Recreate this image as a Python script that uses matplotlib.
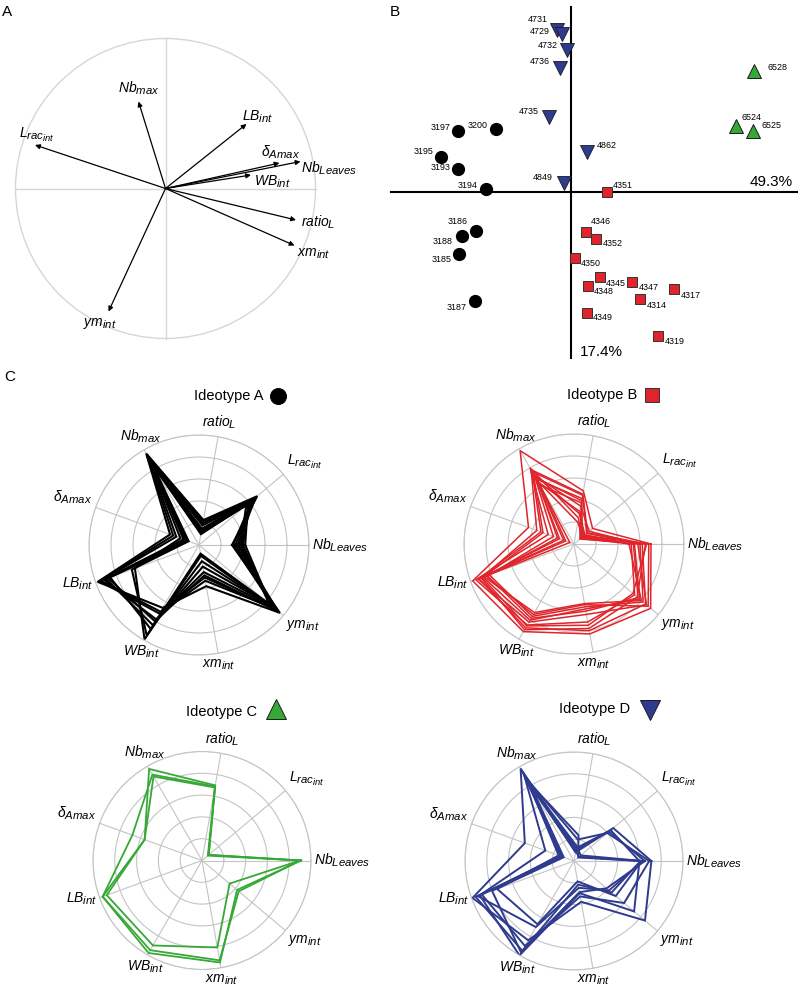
import matplotlib
matplotlib.use('Agg')
import matplotlib.pyplot as plt
import matplotlib._mathtext as _mt
import numpy as np
from matplotlib.lines import Line2D
from matplotlib.patches import Circle

_mt.SHRINK_FACTOR = 0.82

plt.rcParams['font.family'] = ['Liberation Sans', 'DejaVu Sans']
plt.rcParams['mathtext.fontset'] = 'custom'
plt.rcParams['mathtext.it'] = 'Liberation Sans:italic'
plt.rcParams['mathtext.rm'] = 'Liberation Sans'
plt.rcParams['mathtext.bf'] = 'Liberation Sans:bold'
plt.rcParams['mathtext.sf'] = 'Liberation Sans'
plt.rcParams['mathtext.default'] = 'it'

# ---------------- DATA ----------------
# Panel A: correlation circle loadings (PC1, PC2)
varsA = [r'$Nb_{max}$', r'$L_{rac_{int}}$', r'$LB_{int}$', r'$\delta_{Amax}$',
         r'$Nb_{Leaves}$', r'$WB_{int}$', r'$ratio_L$', r'$xm_{int}$', r'$ym_{int}$']
loadPC1 = [-0.18, -0.87, 0.54, 0.76, 0.90, 0.57, 0.87, 0.86, -0.38]
loadPC2 = [0.58, 0.29, 0.43, 0.17, 0.18, 0.09, -0.21, -0.38, -0.82]

# Panel B: individual scores
idsA = ['3197', '3200', '3195', '3193', '3194', '3186', '3188', '3185', '3187']
pc1A = [-2.825, -1.875, -3.25, -2.825, -2.125, -2.375, -2.725, -2.80, -2.40]
pc2A = [1.525, 1.575, 0.875, 0.575, 0.075, -0.975, -1.10, -1.55, -2.725]

idsB = ['4351', '4346', '4352', '4350', '4345', '4348', '4347', '4314', '4317', '4349', '4319']
pc1B = [0.90, 0.375, 0.625, 0.10, 0.725, 0.425, 1.525, 1.725, 2.575, 0.40, 2.175]
pc2B = [0.0, -1.0, -1.175, -1.65, -2.125, -2.35, -2.25, -2.675, -2.425, -3.025, -3.60]

idsC = ['6528', '6524', '6525']
pc1C = [4.575, 4.125, 4.55]
pc2C = [3.025, 1.65, 1.525]

idsD = ['4731', '4729', '4732', '4736', '4735', '4862', '4849']
pc1D = [-0.35, -0.225, -0.10, -0.275, -0.55, 0.40, -0.175]
pc2D = [4.05, 3.95, 3.55, 3.10, 1.875, 1.0, 0.225]

pc1_pct = '49.3%'
pc2_pct = '17.4%'

# Panel C: radar profiles (normalised 0-1)
radar_vars = [r'$Nb_{Leaves}$', r'$L_{rac_{int}}$', r'$ratio_L$', r'$Nb_{max}$',
              r'$\delta_{Amax}$', r'$LB_{int}$', r'$WB_{int}$', r'$xm_{int}$', r'$ym_{int}$']

profA = [
    [0.30, 0.69, 0.23, 0.96, 0.28, 0.98, 0.66, 0.38, 0.96],
    [0.33, 0.66, 0.20, 0.93, 0.22, 0.95, 0.70, 0.30, 0.92],
    [0.39, 0.62, 0.15, 0.90, 0.15, 0.92, 0.78, 0.25, 0.88],
    [0.42, 0.58, 0.12, 0.88, 0.12, 0.90, 0.84, 0.20, 0.85],
    [0.36, 0.64, 0.18, 0.92, 0.18, 0.62, 0.99, 0.10, 0.90],
    [0.40, 0.60, 0.10, 0.86, 0.10, 0.65, 0.95, 0.08, 0.83],
    [0.35, 0.67, 0.14, 0.94, 0.14, 0.88, 0.80, 0.28, 0.94],
    [0.31, 0.63, 0.22, 0.95, 0.25, 0.96, 0.72, 0.33, 0.90],
    [0.38, 0.56, 0.11, 0.83, 0.11, 0.86, 0.88, 0.15, 0.86],
]
profB = [
    [0.70, 0.22, 0.49, 0.98, 0.44, 0.98, 0.92, 0.83, 0.91],
    [0.62, 0.15, 0.45, 0.76, 0.32, 0.92, 0.88, 0.80, 0.85],
    [0.55, 0.10, 0.40, 0.70, 0.14, 0.88, 0.80, 0.60, 0.78],
    [0.68, 0.12, 0.30, 0.65, 0.04, 0.85, 0.74, 0.56, 0.88],
    [0.52, 0.08, 0.24, 0.80, 0.25, 0.95, 0.85, 0.72, 0.72],
    [0.60, 0.18, 0.35, 0.72, 0.20, 0.82, 0.76, 0.58, 0.82],
    [0.65, 0.07, 0.42, 0.68, 0.10, 0.90, 0.90, 0.78, 0.75],
    [0.50, 0.13, 0.28, 0.74, 0.30, 0.87, 0.72, 0.55, 0.80],
    [0.58, 0.09, 0.38, 0.62, 0.08, 0.93, 0.82, 0.65, 0.86],
    [0.66, 0.16, 0.46, 0.78, 0.36, 0.89, 0.86, 0.75, 0.70],
    [0.54, 0.11, 0.20, 0.66, 0.16, 0.84, 0.78, 0.62, 0.76],
]
profC = [
    [0.91, 0.08, 0.70, 0.97, 0.56, 0.97, 0.98, 0.95, 0.42],
    [0.90, 0.07, 0.69, 0.91, 0.68, 0.97, 0.95, 0.93, 0.44],
    [0.90, 0.08, 0.68, 0.89, 0.56, 0.93, 0.90, 0.81, 0.33],
]
profD = [
    [0.71, 0.47, 0.08, 0.98, 0.48, 0.99, 0.84, 0.38, 0.85],
    [0.60, 0.44, 0.12, 0.92, 0.28, 0.92, 1.00, 0.30, 0.72],
    [0.62, 0.05, 0.24, 0.84, 0.15, 0.75, 0.67, 0.19, 0.50],
    [0.65, 0.42, 0.10, 0.95, 0.12, 0.96, 0.95, 0.29, 0.39],
    [0.61, 0.06, 0.09, 0.78, 0.10, 0.80, 0.97, 0.22, 0.45],
    [0.69, 0.40, 0.20, 0.88, 0.14, 0.90, 0.90, 0.33, 0.60],
    [0.63, 0.08, 0.14, 0.82, 0.11, 0.94, 0.70, 0.25, 0.42],
]

# ---------------- STYLE ----------------
colA, colB, colC, colD = '#000000', '#E0242B', '#36A836', '#2E3B8E'
grey = '#c4c4c4'

W, H = 799, 991
fig = plt.figure(figsize=(W / 100, H / 100), dpi=100)


def px_axes(left, top, width, height, **kw):
    return fig.add_axes([left / W, 1 - (top + height) / H, width / W, height / H], **kw)


# ---------------- Panel A ----------------
cxA, cyA, RA = 165.5, 188.5, 150.0
axA = px_axes(cxA - 160, cyA - 160, 320, 320)
axA.set_xlim(-160 / RA, 160 / RA)
axA.set_ylim(-160 / RA, 160 / RA)
axA.axis('off')
axA.add_patch(Circle((0, 0), 1, fill=False, ec='#d6d6d6', lw=1.0))
axA.plot([-1, 1], [0, 0], color='#d6d6d6', lw=1.0)
axA.plot([0, 0], [-1, 1], color='#d6d6d6', lw=1.0)
for x, y in zip(loadPC1, loadPC2):
    axA.annotate('', xy=(x, y), xytext=(0, 0),
                 arrowprops=dict(arrowstyle='-|>', color='k', lw=0.9,
                                 mutation_scale=7, shrinkA=0, shrinkB=0))
labposA = [(-0.177, 0.67), (-0.86, 0.357), (0.617, 0.477), (0.77, 0.243),
           (1.09, 0.137), (0.71, 0.043), (1.02, -0.223), (0.99, -0.437), (-0.437, -0.897)]
for lab, (lx, ly) in zip(varsA, labposA):
    axA.text(lx, ly, lab, ha='center', va='center', fontsize=10)

# ---------------- Panel B ----------------
ox, oy, sc = 571.0, 192.0, 40.0
bl, br, bt, bb = 380.0, 799.0, 0.0, 365.0
axB = px_axes(bl, bt, br - bl, bb - bt)
axB.set_xlim((bl - ox) / sc, (br - ox) / sc)
axB.set_ylim((oy - bb) / sc, (oy - bt) / sc)
axB.axis('off')
axB.plot([(391 - ox) / sc, (797 - ox) / sc], [0, 0], color='k', lw=1.5, zorder=1)
axB.plot([0, 0], [(oy - 358) / sc, (oy - 7) / sc], color='k', lw=1.5, zorder=1)
axB.text((793 - ox) / sc, (oy - 182) / sc, pc1_pct, ha='right', va='center', fontsize=11)
axB.text((580 - ox) / sc, (oy - 352) / sc, pc2_pct, ha='left', va='center', fontsize=11)

axB.plot(pc1A, pc2A, 'o', ms=8.5, color=colA, mec=colA, ls='none', zorder=3)
axB.plot(pc1B, pc2B, 's', ms=7.5, color=colB, mec='#333333', mew=0.7, ls='none', zorder=3)
axB.plot(pc1C, pc2C, '^', ms=10.5, color=colC, mec='#1a1a1a', mew=0.7, ls='none', zorder=3)
axB.plot(pc1D, pc2D, 'v', ms=10.5, color=colD, mec='#1a1a1a', mew=0.6, ls='none', zorder=3)

# label offsets in pixels (dx, dy screen-down) and side
offA = [(-8, -4, 'r'), (-8, -4, 'r'), (-8, -5, 'r'), (-8, -1, 'r'), (-9, -4, 'r'),
        (-8, -9, 'r'), (-9, 6, 'r'), (-7, 5, 'r'), (-8, 6, 'r')]
offB = [(6, -6, 'l'), (5, -10, 'l'), (7, 5, 'l'), (6, 6, 'l'), (6, 6, 'l'), (6, 6, 'l'),
        (7, 5, 'l'), (7, 7, 'l'), (7, 6, 'l'), (6, 5, 'l'), (7, 6, 'l')]
offC = [(14, -4, 'l'), (5, -8, 'l'), (9, -6, 'l')]
offD = [(-9, -11, 'r'), (-12, -2, 'r'), (-9, -5, 'r'), (-10, -6, 'r'), (-10, -6, 'r'),
        (10, -6, 'l'), (-11, -6, 'r')]
for ids, xs, ys, offs in [(idsA, pc1A, pc2A, offA), (idsB, pc1B, pc2B, offB),
                          (idsC, pc1C, pc2C, offC), (idsD, pc1D, pc2D, offD)]:
    for t, x, y, (dx, dy, side) in zip(ids, xs, ys, offs):
        axB.annotate(t, xy=(x, y), xytext=(dx, -dy), textcoords='offset pixels',
                     ha='right' if side == 'r' else 'left', va='center', fontsize=6.4, zorder=4)

# ---------------- Panel C radars ----------------
angles = np.deg2rad(np.arange(0, 360, 40))
lab_layout = [(1.03, 'left', 'center'), (1.04, 'left', 'bottom'), (1.05, 'center', 'bottom'),
              (1.05, 'center', 'bottom'), (1.03, 'right', 'bottom'), (1.02, 'right', 'center'),
              (1.04, 'center', 'top'), (1.04, 'center', 'top'), (1.03, 'left', 'top')]


def radar(cx, cy, R, data, color, lw):
    ax = px_axes(cx - R, cy - R, 2 * R, 2 * R, projection='polar')
    ax.set_theta_offset(0)
    ax.set_theta_direction(1)
    ax.set_ylim(0, 1)
    ax.set_thetagrids(np.rad2deg(angles), labels=[''] * len(angles))
    ax.set_rgrids([0.2, 0.4, 0.6, 0.8, 1.0], labels=[''] * 5)
    ax.grid(color=grey, lw=0.8)
    ax.spines['polar'].set_color(grey)
    ax.spines['polar'].set_linewidth(0.8)
    ax.set_facecolor('none')
    ax.tick_params(length=0, pad=0)
    th = np.append(angles, angles[0])
    for row in data:
        ax.plot(th, list(row) + [row[0]], color=color, lw=lw, solid_joinstyle='miter')
    for a, lab, (r, ha, va) in zip(angles, radar_vars, lab_layout):
        ax.text(a, r, lab, ha=ha, va=va, fontsize=10)
    return ax


radar(199, 545, 110, profA, colA, 1.5)
radar(574, 544, 110, profB, colB, 1.1)
radar(202, 860.5, 109, profC, colC, 1.3)
radar(574, 861, 109, profD, colD, 1.4)

# titles with symbols
titles = [('Ideotype A', 263, 396, 278, 396, 'o', colA, 11.5, colA),
          ('Ideotype B', 637, 395, 652, 395, 's', colB, 10.5, '#333333'),
          ('Ideotype C', 257, 712, 276, 709, '^', colC, 15, '#1a1a1a'),
          ('Ideotype D', 630, 709, 650, 710, 'v', colD, 14, '#1a1a1a')]
for txt, tx, ty, mx, my, mk, c, ms, mec in titles:
    fig.text(tx / W, 1 - ty / H, txt, ha='right', va='center', fontsize=10.5)
    fig.add_artist(Line2D([mx / W], [1 - my / H], transform=fig.transFigure, marker=mk,
                          ms=ms, color=c, mec=mec, mew=0.7, ls='none'))

# panel letters
fig.text(2 / W, 1 - 12 / H, 'A', ha='left', va='center', fontsize=11)
fig.text(390 / W, 1 - 12 / H, 'B', ha='left', va='center', fontsize=11)
fig.text(4 / W, 1 - 377 / H, 'C', ha='left', va='center', fontsize=11)

fig.savefig('out.png', dpi=100)
